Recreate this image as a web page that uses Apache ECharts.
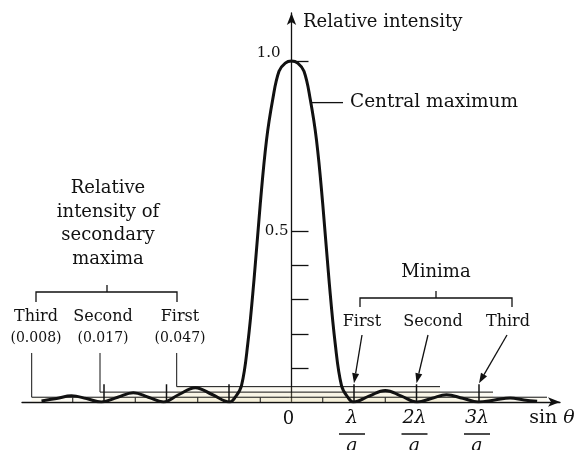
<!DOCTYPE html>
<html><head><meta charset="utf-8">
<script src="https://cdn.jsdelivr.net/npm/echarts@6/dist/echarts.min.js"></script>
<style>html,body{margin:0;padding:0;background:#fff}#c{width:574px;height:450px}</style>
</head><body><div id="c"></div>
<script>
// ---- data (x in units of lambda/a, y = relative intensity) ----
const curveX = [-4.0, -3.76, -3.52, -3.28, -3.04, -2.78, -2.53, -2.29, -2.05, -1.8, -1.54, -1.27, -0.99, -0.9, -0.8, -0.7, -0.6, -0.5, -0.4, -0.3, -0.2, -0.1, 0, 0.1, 0.2, 0.3, 0.4, 0.5, 0.6, 0.7, 0.8, 0.9, 0.99, 1.24, 1.50, 1.76, 2.01, 2.25, 2.48, 2.74, 2.99, 3.25, 3.5, 3.72, 3.93];
const curveY = [0.003, 0.010, 0.018, 0.010, 0.0, 0.014, 0.027, 0.014, 0.0, 0.022, 0.042, 0.022, 0.0, 0.014, 0.048, 0.17, 0.358, 0.58, 0.768, 0.888, 0.97, 0.994, 1.0, 0.994, 0.97, 0.888, 0.768, 0.58, 0.358, 0.17, 0.048, 0.014, 0.0, 0.017, 0.034, 0.017, 0.0, 0.011, 0.021, 0.011, 0.0, 0.006, 0.012, 0.006, 0.002];
const minimaX = [-3, -2, -1, 1, 2, 3];
const maximaTickX = [-3.5, -2.5, -1.5, -0.5, 0.5, 1.5];
const secondaryNames = ['Third', 'Second', 'First'];
const secondaryValues = ['0.008', '0.017', '0.047'];
const levelY = [0.014, 0.029, 0.045];
const levelStartX = [-4.157, -3.064, -1.837];
const levelEndX = [4.088, 3.224, 2.376];
const xTickValues = [0, 1, 2, 3];
const xTickNumerators = ['0', 'λ', '2λ', '3λ'];
const yTickValues = [0.1, 0.2, 0.3, 0.4, 0.5, 1.0];
const yLabelValues = [0.5, 1.0];
const minimaNames = ['First', 'Second', 'Third'];

const FONT = '"DejaVu Serif", "Liberation Serif", serif';
const INK = '#111';
const LEADER_TOP = 0.1437;

const chart = echarts.init(document.getElementById('c'), null, {renderer: 'canvas'});

const levelSeries = levelY.map((ly, i) => ({
  type: 'line', silent: true, symbol: 'none', z: 2,
  data: [[levelStartX[i], LEADER_TOP], [levelStartX[i], ly], [levelEndX[i], ly]],
  lineStyle: {color: INK, width: 1},
  areaStyle: {color: 'rgba(235,215,150,0.18)'}
}));

const option = {
  backgroundColor: '#fff',
  animation: false,
  grid: {left: 22, right: 14, top: 13, bottom: 48, containLabel: false, outerBoundsMode: 'none'},
  xAxis: {
    type: 'value', min: -4.312, max: 4.296,
    axisLine: {onZero: true, symbol: ['none', 'arrow'], symbolSize: [7, 12], lineStyle: {color: INK, width: 1.3}},
    axisTick: {show: false}, axisLabel: {show: false}, splitLine: {show: false}
  },
  yAxis: {
    type: 'value', min: 0, max: 1.1408,
    axisLine: {onZero: true, symbol: ['none', 'arrow'], symbolSize: [7, 12], lineStyle: {color: INK, width: 1.3}},
    axisTick: {show: true, inside: true, length: 17, customValues: yTickValues, lineStyle: {color: INK, width: 1.3}},
    axisLabel: {show: false},
    splitLine: {show: false}
  },
  series: [
    ...levelSeries,
    {
      type: 'line', name: 'intensity', symbol: 'none', smooth: 0.4, z: 5,
      data: curveX.map((x, i) => [x, curveY[i]]),
      lineStyle: {color: INK, width: 3}
    },
    {
      type: 'custom', silent: true, z: 4,
      data: minimaX.map(x => [x, 0.052]).concat(maximaTickX.map(x => [x, 0.013])),
      renderItem: (params, api) => {
        const x = api.value(0), h = api.value(1);
        const p0 = api.coord([x, 0]), p1 = api.coord([x, h]);
        return {type: 'line', shape: {x1: p0[0], y1: p0[1], x2: p1[0], y2: p1[1]},
          style: {stroke: INK, lineWidth: h > 0.03 ? 1.5 : 1}};
      }
    },
    {
      type: 'custom', silent: true, clip: false, z: 4,
      data: yLabelValues.map(v => [0, v]),
      renderItem: (params, api) => {
        const v = api.value(1);
        const p = api.coord([0, v]);
        const top = v === 1;
        return {type: 'text', style: {text: v.toFixed(1), x: p[0] - (top ? 11 : 3), y: p[1] - (top ? 8 : 0),
          align: 'right', verticalAlign: 'middle', font: '15px ' + FONT, fill: INK}};
      }
    },
    {
      type: 'custom', silent: true, clip: false, z: 4,
      data: xTickValues.map((v, i) => [v, i]),
      renderItem: (params, api) => {
        const v = api.value(0), i = api.value(1);
        const p = api.coord([v, 0]);
        if (i === 0) {
          return {type: 'text', style: {text: xTickNumerators[0], x: p[0] - 3, y: p[1] + 17,
            align: 'center', verticalAlign: 'middle', font: '18px ' + FONT, fill: INK}};
        }
        const cx = p[0] - 2;
        return {type: 'group', children: [
          {type: 'text', style: {text: xTickNumerators[i], x: cx, y: p[1] + 16, align: 'center', verticalAlign: 'middle',
            font: 'italic 19px ' + FONT, fill: INK}},
          {type: 'line', shape: {x1: cx - 13, y1: p[1] + 32, x2: cx + 13, y2: p[1] + 32}, style: {stroke: INK, lineWidth: 1.5}},
          {type: 'text', style: {text: 'a', x: cx, y: p[1] + 44, align: 'center', verticalAlign: 'middle',
            font: 'italic 19px ' + FONT, fill: INK}}
        ]};
      }
    }
  ]
};
chart.setOption(option);

function P(x, y) { return chart.convertToPixel({gridIndex: 0}, [x, y]); }
function arrow(x1, y1, x2, y2) {
  const dx = x2 - x1, dy = y2 - y1, L = Math.hypot(dx, dy), ux = dx / L, uy = dy / L;
  const hl = 10, hw = 3.5, bx = x2 - ux * hl, by = y2 - uy * hl;
  return [
    {type: 'line', shape: {x1, y1, x2: bx, y2: by}, style: {stroke: INK, lineWidth: 1.3}},
    {type: 'polygon', shape: {points: [[x2, y2], [bx - uy * hw, by + ux * hw], [bx + uy * hw, by - ux * hw]]}, style: {fill: INK}}
  ];
}
function txt(s, x, y, size, align, extra) {
  return Object.assign({type: 'text', style: {text: s, x, y, align: align || 'center', verticalAlign: 'middle',
    font: size + 'px ' + FONT, fill: INK}}, extra || {});
}

const g = [];
g.push(txt('Relative intensity', 303, 22, 18, 'left'));
const cm = P(0.305, 0.878);
g.push({type: 'line', shape: {x1: cm[0] + 1, y1: cm[1], x2: 343, y2: cm[1]}, style: {stroke: INK, lineWidth: 1.3}});
g.push(txt('Central maximum', 350, cm[1], 18.5, 'left'));
g.push({type: 'text', style: {text: 'Relative\nintensity of\nsecondary\nmaxima', x: 108, y: 177, align: 'center',
  verticalAlign: 'top', font: '18px ' + FONT, lineHeight: 23.5, fill: INK}});
// left bracket
g.push({type: 'polyline', shape: {points: [[36, 302], [36, 292], [177, 292], [177, 302]]}, style: {stroke: INK, lineWidth: 1.3, fill: null}});
g.push({type: 'line', shape: {x1: 107, y1: 292, x2: 107, y2: 285}, style: {stroke: INK, lineWidth: 1.3}});
const secX = [36, 103, 180];
secondaryNames.forEach((n, i) => {
  g.push(txt(n, secX[i], 317, 16));
  g.push(txt('(' + secondaryValues[i] + ')', secX[i], 338, 14));
});
// minima bracket
g.push(txt('Minima', 436, 272, 18));
g.push({type: 'polyline', shape: {points: [[360, 307], [360, 298], [512, 298], [512, 307]]}, style: {stroke: INK, lineWidth: 1.3, fill: null}});
g.push({type: 'line', shape: {x1: 436, y1: 298, x2: 436, y2: 291}, style: {stroke: INK, lineWidth: 1.3}});
const minLabX = [362, 433, 508];
const minTailX = [362, 428, 507];
minimaNames.forEach((n, i) => {
  g.push(txt(n, minLabX[i], 322, 16));
  const tip = P(minimaX[3 + i], 0.055);
  arrow(minTailX[i], 335, tip[0], tip[1]).forEach(e => g.push(e));
});
g.push({type: 'text', style: {rich: {r: {font: '19px ' + FONT, fill: INK}, i: {font: 'italic 19px ' + FONT, fill: INK}},
  text: '{r|sin }{i|θ}', x: 552, y: 418, align: 'center', verticalAlign: 'middle'}});
chart.setOption({graphic: g.map(e => Object.assign({z: 10}, e))});
</script>
</body></html>
